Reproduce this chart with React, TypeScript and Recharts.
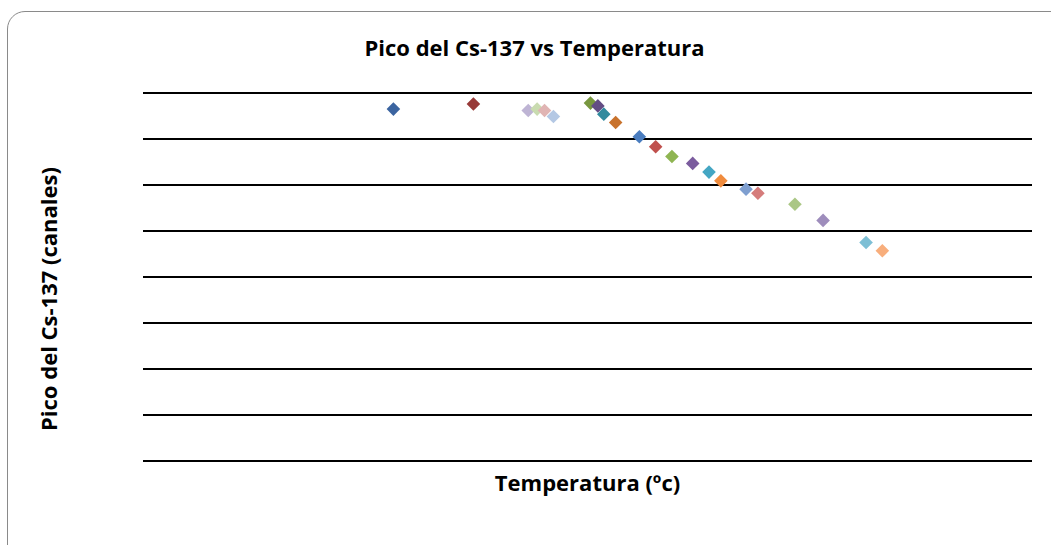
import { ScatterChart, Scatter, XAxis, YAxis, CartesianGrid, Cell } from 'recharts';

// temperature (ºC) and Cs-137 peak channel
const temperatures = [16.9, 22.3, 26.0, 26.6, 27.1, 27.7, 30.2, 30.7, 31.1, 31.9, 33.5, 34.6, 35.7, 37.1, 38.2, 39.0, 40.7, 41.5, 44.0, 45.9, 48.8, 49.9];
const peaks = [765, 776, 762, 765, 762, 749, 778, 772, 754, 736, 705, 683, 662, 647, 628, 609, 591, 582, 558, 523, 475, 457];
const pointColors = [
  '#3B64A0', '#983A38', '#BEB4D4', '#C9DBB0', '#E0B4B3', '#B4C8E4', '#78973F', '#634C84',
  '#318A9E', '#C8722C', '#4A7DBF', '#C0504D', '#8FB552', '#7B5C9E', '#44A6C3', '#F08C3E',
  '#7F9FD0', '#D57C7B', '#ABC785', '#9E8DBC', '#7DBFD5', '#F8AE7C',
];
const yTicks = [0, 100, 200, 300, 400, 500, 600, 700, 800];

const data = temperatures.map((t, i) => ({ temp: t, peak: peaks[i] }));

const labelStyle = {
  position: 'absolute' as const,
  fontFamily: '"Open Sans", sans-serif',
  fontWeight: 700,
  fontSize: 22,
  lineHeight: '22px',
  height: 22,
  color: '#000',
  textAlign: 'center' as const,
  whiteSpace: 'nowrap' as const,
};

// Excel-style diamond marker
function Diamond(props: any) {
  const { cx, cy, fill } = props;
  const r = 6.8;
  return (
    <polygon
      points={`${cx},${cy - r} ${cx + r},${cy} ${cx},${cy + r} ${cx - r},${cy}`}
      fill={fill}
    />
  );
}

export default function App() {
  return (
    <div style={{ position: 'absolute', left: 0, top: 0, width: 1051, height: 545, overflow: 'hidden', background: '#fff' }}>
      <div
        style={{
          position: 'absolute', left: 7, top: 11, width: 1070, height: 560,
          border: '1.5px solid #8a8a8a', borderRadius: 18, boxSizing: 'border-box',
        }}
      />
      <ScatterChart width={1051} height={545} margin={{ top: 93, right: 19, bottom: 84, left: 143 }} style={{ position: 'absolute', left: 0, top: 0 }}>
        <CartesianGrid vertical={false} stroke="#000" strokeWidth={2} />
        <XAxis type="number" dataKey="temp" domain={[0, 60]} hide />
        <YAxis type="number" dataKey="peak" domain={[0, 800]} ticks={yTicks} hide />
        <Scatter data={data} shape={<Diamond />} isAnimationActive={false}>
          {data.map((d, i) => (
            <Cell key={i} fill={pointColors[i]} />
          ))}
        </Scatter>
      </ScatterChart>
      <div style={{ ...labelStyle, left: 0, width: 1069, top: 35.5 }}>
        Pico del Cs-137 vs Temperatura
      </div>
      <div style={{ ...labelStyle, left: 143, width: 889, top: 470.5 }}>
        Temperatura (ºc)
      </div>
      <div style={{ ...labelStyle, left: 47.5 - 170, top: 299 - 11, width: 340, transform: 'rotate(-90deg)' }}>
        Pico del Cs-137 (canales)
      </div>
    </div>
  );
}
